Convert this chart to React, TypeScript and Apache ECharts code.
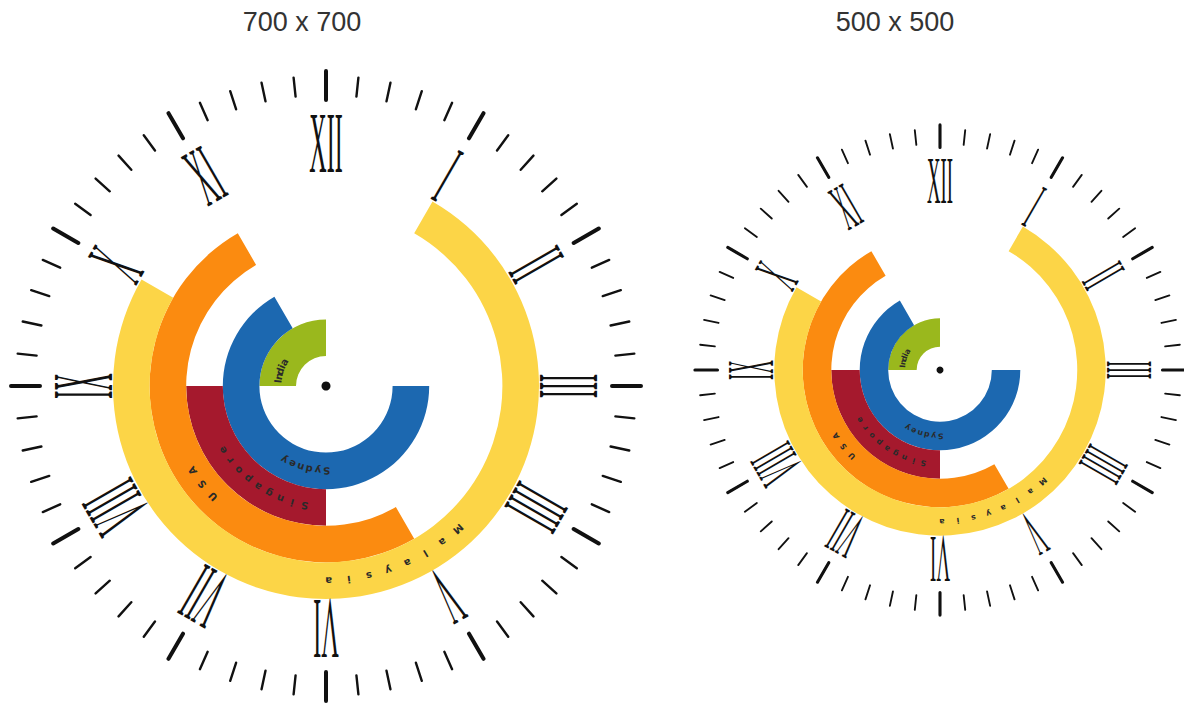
import React, { useEffect, useRef } from 'react';
import * as echarts from 'echarts';

// ---- data ----
const categories = ['India', 'Sydney', 'Singapore', 'USA', 'Malaysia'];
const startHours = [9, 3, 6, 5, 1];
const durationHours = [3, 8, 3, 6, 9];
const barColors = ['#9ab81d', '#1c68b0', '#a5192d', '#fb8b10', '#fcd547'];
const numerals = ['XII', 'I', 'II', 'III', 'IIII', 'V', 'VI', 'VII', 'VIII', 'IX', 'X', 'XI'];
const titles = ['700 x 700', '500 x 500'];

// ---- layout (base = 700 clock) ----
const clocks = [
  { cx: 326, cy: 386, s: 1, titleX: 302 },
  { cx: 940, cy: 370, s: 0.778, titleX: 895 },
];
const BAR_INNER = 30;
const BAR_OUTER = 213;
const NUM_R = 243;
const NUM_FONT = 86;
const MAJOR_R = 315;
const MAJOR_LEN = 29;
const MINOR_R = 310;
const MINOR_LEN = 19;

export default function App() {
  const ref = useRef<HTMLDivElement>(null);
  useEffect(() => {
    if (!ref.current) return;
    const chart = echarts.init(ref.current, null, { renderer: 'svg' });
    const polar: any[] = [];
    const angleAxis: any[] = [];
    const radiusAxis: any[] = [];
    const series: any[] = [];
    const graphic: any[] = [];

    clocks.forEach((c, k) => {
      const s = c.s;
      const center = [c.cx, c.cy];
      const base = k * 3;
      polar.push({ center, radius: [BAR_INNER * s, BAR_OUTER * s] });
      polar.push({ center, radius: MAJOR_R * s });
      polar.push({ center, radius: MINOR_R * s });

      angleAxis.push({
        polarIndex: base, type: 'value', min: 0, max: 12, startAngle: 90, clockwise: true, show: false,
      });
      [
        { idx: base + 1, interval: 5, len: MAJOR_LEN * s, w: 4 * s },
        { idx: base + 2, interval: 1, len: MINOR_LEN * s, w: 2.4 * s },
      ].forEach((t) => {
        angleAxis.push({
          polarIndex: t.idx, type: 'value', min: 0, max: 60, interval: t.interval,
          startAngle: 90, clockwise: true,
          axisLine: { show: false },
          axisLabel: { show: false },
          splitLine: { show: false },
          axisTick: { show: true, inside: true, length: t.len, lineStyle: { width: t.w, color: '#111', cap: 'round' } },
        });
      });
      radiusAxis.push({ polarIndex: base, type: 'category', data: categories, show: false });
      radiusAxis.push({ polarIndex: base + 1, type: 'value', show: false });
      radiusAxis.push({ polarIndex: base + 2, type: 'value', show: false });

      series.push({
        type: 'bar', coordinateSystem: 'polar', polarIndex: base, stack: 'c' + k,
        data: startHours, itemStyle: { color: 'transparent' }, barCategoryGap: '0%', silent: true,
      });
      series.push({
        type: 'bar', coordinateSystem: 'polar', polarIndex: base, stack: 'c' + k,
        data: durationHours.map((v, i) => ({ value: v, itemStyle: { color: barColors[i] } })),
        barCategoryGap: '0%',
      });

      // numerals
      numerals.forEach((n, h) => {
        const th = (h * 30 * Math.PI) / 180;
        const r = NUM_R * s;
        graphic.push({
          type: 'text',
          x: c.cx + r * Math.sin(th),
          y: c.cy - r * Math.cos(th),
          rotation: -th,
          scaleX: 0.28,
          silent: true,
          z: 50,
          style: {
            text: n, fontSize: NUM_FONT * s, fontFamily: 'Liberation Serif', fill: '#111',
            align: 'center', verticalAlign: 'middle', textAlign: 'center', textVerticalAlign: 'middle',
          },
        });
      });

      // curved category labels along bars
      const band = (BAR_OUTER - BAR_INNER) / categories.length;
      categories.forEach((name, i) => {
        const rBase = BAR_INNER + (i + 0.5) * band;
        const r = rBase * s;
        const mid = startHours[i] + durationHours[i] / 2;
        const centerDeg = mid * 30 - (23 / rBase) * (180 / Math.PI);
        const letters = name.split('');
        const n = letters.length;
        letters.forEach((ch, j) => {
          const deg = centerDeg + (j - (n - 1) / 2) * 6;
          const th = (deg * Math.PI) / 180;
          graphic.push({
            type: 'text',
            x: c.cx + r * Math.sin(th),
            y: c.cy - r * Math.cos(th),
            rotation: -th,
            silent: true,
            z: 100,
            style: {
              text: ch, fontSize: 10 * s, fontWeight: 'bold', fontFamily: 'DejaVu Sans', fill: '#2a2a2a',
              align: 'center', verticalAlign: 'middle', textAlign: 'center', textVerticalAlign: 'middle',
            },
          });
        });
      });

      graphic.push({
        type: 'circle', z: 100, shape: { cx: c.cx, cy: c.cy, r: 4.5 * s }, style: { fill: '#111' }, silent: true,
      });
      graphic.push({
        type: 'text', x: c.titleX, y: 22, silent: true, z: 100,
        style: {
          text: titles[k], fontSize: 27, fontFamily: 'Liberation Sans', fill: '#333',
          align: 'center', verticalAlign: 'middle', textAlign: 'center', textVerticalAlign: 'middle',
        },
      });
    });

    chart.setOption({
      animation: false,
      backgroundColor: '#ffffff',
      polar,
      angleAxis,
      radiusAxis,
      series,
      graphic,
    });
    return () => chart.dispose();
  }, []);
  return (
    <div
      ref={ref}
      style={{ position: 'fixed', left: 0, top: 0, width: 1184, height: 705 }}
    />
  );
}
